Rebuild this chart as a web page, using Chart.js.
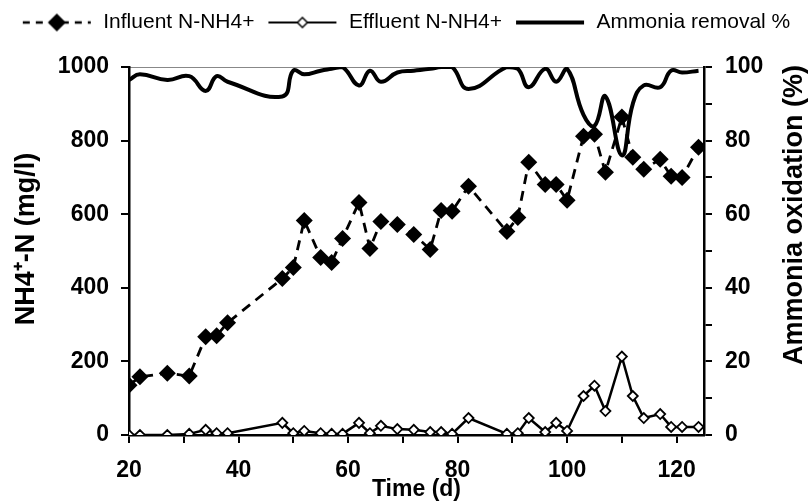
<!DOCTYPE html>
<html>
<head>
<meta charset="utf-8">
<script src="https://cdn.jsdelivr.net/npm/chart.js@4"></script>
<style>
  body { margin: 0; background: #fff; }
</style>
</head>
<body>
<canvas id="mycanvas" width="811" height="501"></canvas>
<script>
// days of operation
var days = [20, 22, 27, 31, 34, 36, 38, 48, 50, 52, 55, 57, 59, 62, 64, 66, 69,
  72, 75, 77, 79, 82, 89, 91, 93, 96, 98, 100, 103, 105, 107, 110, 112, 114, 117, 119, 121, 124];
// N-NH4+ mg/l
var influent = [135, 158, 168, 160, 267, 270, 305, 425, 455, 583, 482, 469, 534, 632, 507, 580, 572,
  545, 504, 610, 608, 676, 553, 591, 741, 681, 681, 638, 812, 817, 714, 864, 755, 722, 749, 703, 700, 782];
var effluent = [0, 0, 0, 3, 14, 5, 5, 33, 5, 11, 5, 3, 3, 33, 5, 25, 16,
  14, 8, 8, 3, 46, 3, 5, 46, 8, 33, 11, 106, 134, 65, 213, 106, 46, 57, 22, 22, 22];
// removal %
var removal = [96.5, 98, 96.5, 97.5, 93.5, 97.5, 96, 92, 99, 98, 99, 99.5, 100, 95, 99, 96, 98.5,
  99, 99.5, 100, 100, 94, 100, 99.5, 94.5, 99.5, 96, 99.5, 87, 84, 92, 76, 90, 95, 94.5, 99, 98.5, 99];

var xTicks = [20, 40, 60, 80, 100, 120];
var yLeftTicks = [0, 200, 400, 600, 800, 1000];
var yRightTicks = [0, 20, 40, 60, 80, 100];

var fontFamily = "'Liberation Sans', Arial, sans-serif";
Chart.defaults.font.family = fontFamily;
Chart.defaults.color = '#000';

function pts(ys) {
  var out = [];
  for (var i in days) {
    out.push({x: days[i], y: ys[i]});
  }
  return out;
}

// little legend samples: line + marker
function sample(dash, lw, marker) {
  var c = document.createElement('canvas');
  c.width = 72; c.height = 20;
  var g = c.getContext('2d');
  g.strokeStyle = '#000';
  g.lineWidth = lw;
  g.setLineDash(dash);
  g.beginPath(); g.moveTo(2, 10); g.lineTo(70, 10); g.stroke();
  g.setLineDash([]);
  if (marker == 'filled') {
    g.fillStyle = '#000';
    g.beginPath(); g.moveTo(27, 10); g.lineTo(36, 1); g.lineTo(45, 10); g.lineTo(36, 19); g.closePath(); g.fill();
  } else if (marker == 'open') {
    g.fillStyle = '#fff'; g.lineWidth = 1.5;
    g.beginPath(); g.moveTo(31, 10); g.lineTo(36, 5); g.lineTo(41, 10); g.lineTo(36, 15); g.closePath(); g.fill(); g.stroke();
  }
  return c;
}

var legendPad = {
  id: 'legendPad',
  beforeInit: function(chart) {
    var fit = chart.legend.fit;
    chart.legend.fit = function() {
      fit.bind(chart.legend)();
      this.height = 67;
    };
  }
};

// vertical axis titles, both read bottom-to-top like the original
var sideTitles = {
  id: 'sideTitles',
  afterDraw: function(chart, args, opts) {
    var c = chart.ctx;
    c.save();
    c.fillStyle = '#000';
    c.font = 'bold ' + opts.size + 'px ' + fontFamily;
    c.textAlign = 'center';
    c.textBaseline = 'middle';
    c.translate(opts.leftX, opts.leftY);
    c.rotate(-Math.PI / 2);
    c.fillText(opts.left, 0, 0);
    c.restore();
    c.save();
    c.fillStyle = '#000';
    c.font = 'bold ' + opts.size + 'px ' + fontFamily;
    c.textAlign = 'center';
    c.textBaseline = 'middle';
    c.translate(opts.rightX, opts.rightY);
    c.rotate(-Math.PI / 2);
    c.fillText(opts.right, 0, 0);
    c.restore();
  }
};

var chartdata = {
  datasets: [
    {
      label: 'Influent N-NH4+',
      data: pts(influent),
      yAxisID: 'y',
      borderColor: '#000',
      backgroundColor: '#000',
      borderWidth: 2.8,
      borderDash: [10, 7],
      pointStyle: 'rectRot',
      pointRadius: 8.5,
      pointBorderWidth: 0,
      pointBackgroundColor: '#000',
      tension: 0,
      order: 2
    },
    {
      label: 'Effluent N-NH4+',
      data: pts(effluent),
      yAxisID: 'y',
      borderColor: '#000',
      backgroundColor: '#fff',
      borderWidth: 2.5,
      pointStyle: 'rectRot',
      pointRadius: 5,
      pointBorderWidth: 1.8,
      pointBackgroundColor: '#fff',
      pointBorderColor: '#000',
      tension: 0,
      order: 1
    },
    {
      label: 'Ammonia removal %',
      data: pts(removal),
      yAxisID: 'y2',
      borderColor: '#000',
      borderWidth: 4,
      pointRadius: 0,
      tension: 0.45,
      order: 3
    }
  ]
};

var legendImgs = [sample([7, 6], 2.5, 'filled'), sample([], 2, 'open'), sample([], 4, null)];

var ctx = document.getElementById('mycanvas');
var lineGraph = new Chart(ctx, {
  type: 'line',
  data: chartdata,
  plugins: [legendPad, sideTitles],
  options: {
    responsive: false,
    animation: false,
    layout: { padding: 0 },
    plugins: {
      tooltip: { enabled: false },
      sideTitles: {
        left: 'NH4\u207A-N (mg/l)', right: 'Ammonia oxidation (%)', size: 27,
        leftX: 27, leftY: 239, rightX: 795, rightY: 215
      },
      legend: {
        position: 'top',
        labels: {
          usePointStyle: true,
          pointStyleWidth: 72,
          padding: 12,
          font: { size: 21 },
          color: '#000',
          generateLabels: function(chart) {
            return chart.data.datasets.map(function(ds, i) {
              return { text: ds.label, pointStyle: legendImgs[i], datasetIndex: i, lineWidth: 0, fontColor: '#000' };
            });
          }
        }
      }
    },
    scales: {
      x: {
        type: 'linear',
        position: 'bottom',
        min: 20,
        max: 125,
        afterFit: function(s) { s.height = 66; },
        border: { color: '#000', width: 2.5 },
        grid: { drawOnChartArea: false, drawTicks: true, tickLength: 8, color: '#000', lineWidth: 2 },
        ticks: {
          stepSize: 10,
          includeBounds: false,
          padding: 14,
          maxRotation: 0,
          autoSkip: false,
          font: { size: 23, weight: 'bold' },
          callback: function(v) { return xTicks.indexOf(v) >= 0 ? String(v) : ''; }
        },
        title: { display: true, text: 'Time (d)', font: { size: 23, weight: 'bold', lineHeight: 1 }, padding: 0 }
      },
      xTop: {
        type: 'linear',
        position: 'top',
        min: 20,
        max: 125,
        afterFit: function(s) { s.height = 0; },
        border: { color: '#888', width: 1, dash: [2, 2] },
        grid: { display: false, drawTicks: false },
        ticks: { display: false }
      },
      y: {
        position: 'left',
        min: 0,
        max: 1000,
        afterFit: function(s) { s.width = 129; },
        border: { color: '#000', width: 2.5 },
        grid: { drawOnChartArea: false, tickLength: 8, color: '#000', lineWidth: 2 },
        ticks: {
          stepSize: 200,
          padding: 12,
          font: { size: 23, weight: 'bold' },
          callback: function(v) { return yLeftTicks.indexOf(v) >= 0 ? String(v) : ''; }
        }
      },
      y2: {
        position: 'right',
        min: 0,
        max: 100,
        afterFit: function(s) { s.width = 107; },
        border: { color: '#000', width: 2.5 },
        grid: { drawOnChartArea: false, tickLength: 8, color: '#000', lineWidth: 2 },
        ticks: {
          stepSize: 10,
          padding: 13,
          font: { size: 23, weight: 'bold' },
          callback: function(v) { return yRightTicks.indexOf(v) >= 0 ? String(v) : ''; }
        }
      }
    }
  }
});
</script>
</body>
</html>
